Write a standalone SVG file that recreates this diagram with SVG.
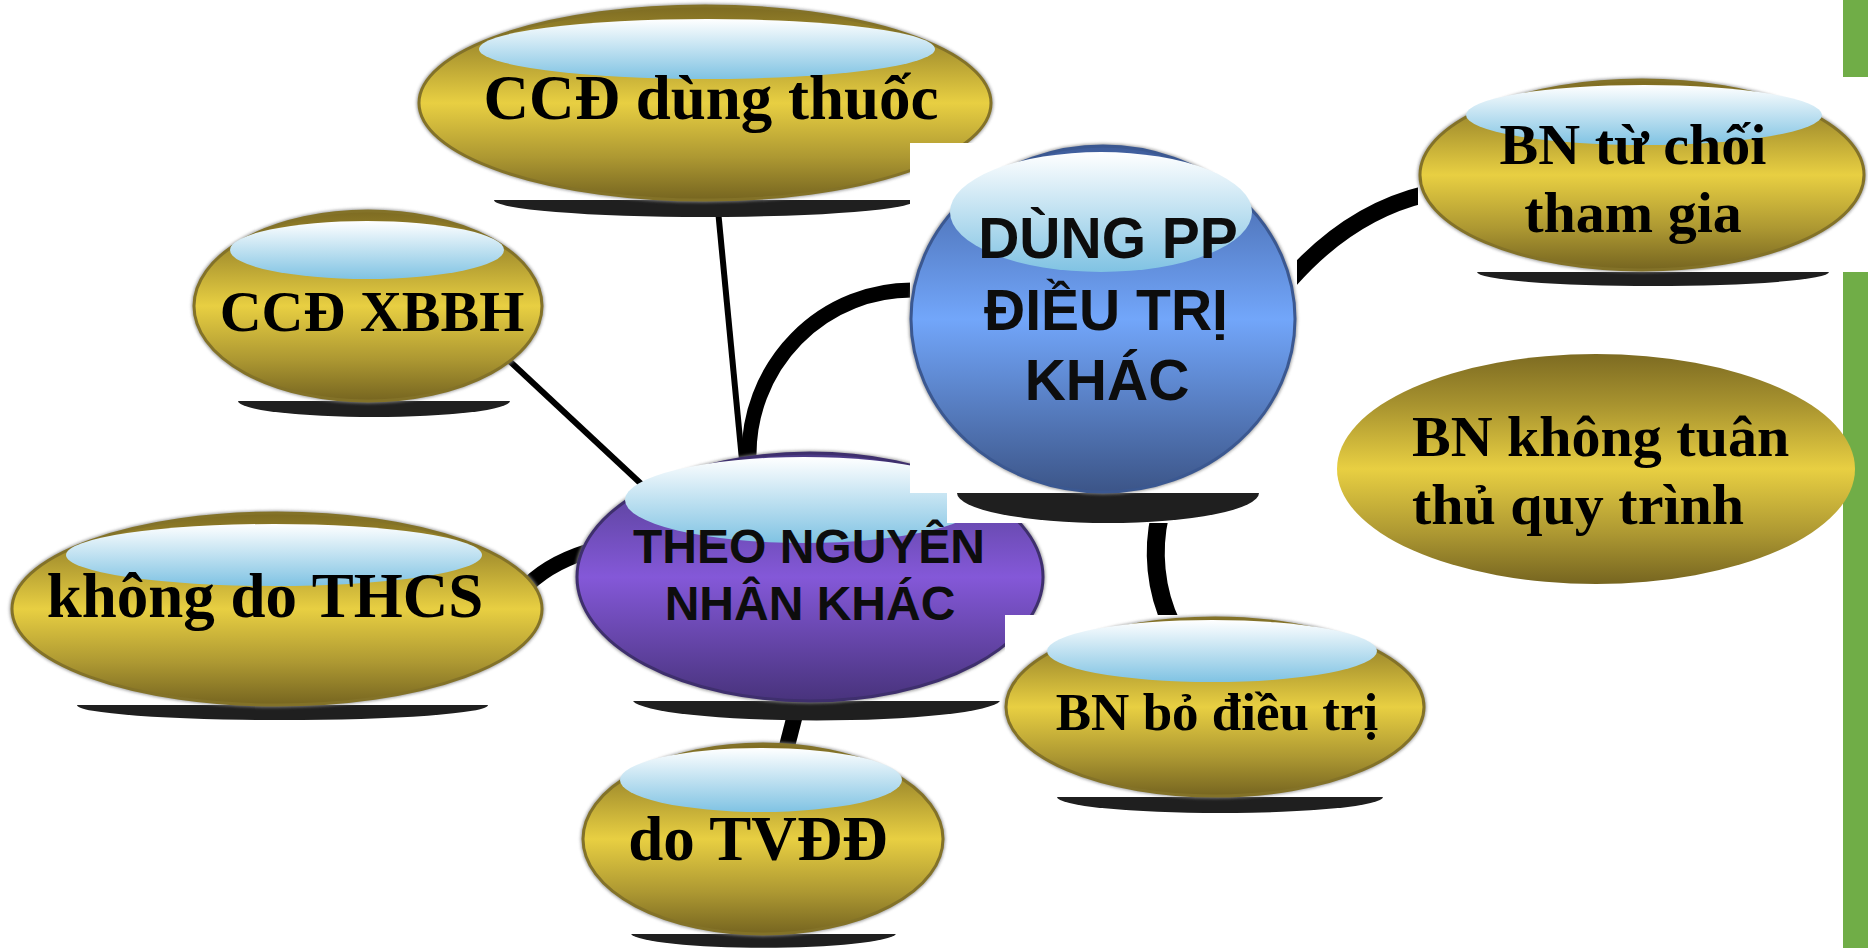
<svg xmlns="http://www.w3.org/2000/svg" width="1868" height="948" viewBox="0 0 1868 948">
<defs>
<linearGradient id="gGold" x1="0" y1="0" x2="0" y2="1">
<stop offset="0" stop-color="#7d6b22"/><stop offset="0.22" stop-color="#a8932f"/><stop offset="0.5" stop-color="#e8cf42"/><stop offset="0.78" stop-color="#ad9832"/><stop offset="1" stop-color="#766520"/>
</linearGradient>
<linearGradient id="gBlue" x1="0" y1="0" x2="0" y2="1">
<stop offset="0" stop-color="#3e5c9a"/><stop offset="0.5" stop-color="#72a6fa"/><stop offset="1" stop-color="#3c5588"/>
</linearGradient>
<linearGradient id="gPurple" x1="0" y1="0" x2="0" y2="1">
<stop offset="0" stop-color="#4b3b85"/><stop offset="0.5" stop-color="#8458d8"/><stop offset="1" stop-color="#48337c"/>
</linearGradient>
<linearGradient id="gHl" x1="0" y1="0" x2="0" y2="1">
<stop offset="0" stop-color="#ffffff"/><stop offset="1" stop-color="#80c3e3"/>
</linearGradient>
<filter id="bl" x="-10%" y="-10%" width="120%" height="120%"><feGaussianBlur stdDeviation="1.5"/></filter>
</defs>
<style>
.halo{fill:none;stroke:#8c8c8c;stroke-width:5;filter:url(#bl);opacity:.8}
.gold{fill:url(#gGold);stroke:#837228;stroke-width:3}
.gold2{fill:url(#gGold)}
.blue{fill:url(#gBlue);stroke:#3b5891;stroke-width:3}
.purple{fill:url(#gPurple);stroke:#3e2f6d;stroke-width:3}
.hl{fill:url(#gHl)}
.sh{fill:#1f1f1f}
.bg{fill:#ffffff}
.tg{font-family:"Liberation Serif","Times New Roman",serif;font-weight:bold;fill:#000;text-anchor:middle}
.ts{font-family:"Liberation Sans",Arial,sans-serif;font-weight:bold;fill:#0d0d0d;text-anchor:middle}
.cn{fill:none;stroke:#000}
</style>
<rect width="1868" height="948" fill="#ffffff"/>
<g id="green-bars" fill="#70ad47">
<rect x="1843" y="0" width="25" height="77"/>
<rect x="1843" y="272" width="25" height="676"/>
</g>
<g id="connectors">
<line class="cn" x1="718" y1="210" x2="742" y2="460" stroke-width="6"/>
<path class="cn" d="M 749 458 A 163 165 0 0 1 914 290" stroke-width="15"/>
<line class="cn" x1="503" y1="355" x2="652" y2="494" stroke-width="6"/>
<path class="cn" d="M 522 591 Q 545 565 586 552" stroke-width="15"/>
<line class="cn" x1="795" y1="715" x2="786" y2="750" stroke-width="16"/>
<path class="cn" d="M 1290 280 Q 1350 212 1426 194" stroke-width="17"/>
<path class="cn" d="M 1160 515 C 1152 550, 1155 590, 1172 625" stroke-width="18"/>
</g>
<g id="node-ccd-dung-thuoc">
<path class="sh" d="M 494 200 A 211 17 0 0 0 916 200 Z"/>
<ellipse class="halo" cx="705" cy="103" rx="286" ry="97"/>
<ellipse class="gold" cx="705" cy="103" rx="286" ry="97"/>
<ellipse class="hl" cx="707" cy="49" rx="228" ry="30"/>
<text class="tg" x="711" y="119" font-size="63">CCĐ dùng thuốc</text>
</g>
<g id="node-ccd-xbbh">
<path class="sh" d="M 238 401 A 136 16 0 0 0 510 401 Z"/>
<ellipse class="halo" cx="368" cy="306" rx="174" ry="95"/>
<ellipse class="gold" cx="368" cy="306" rx="174" ry="95"/>
<ellipse class="hl" cx="367" cy="250" rx="137" ry="29"/>
<text class="tg" x="372" y="331" font-size="58">CCĐ XBBH</text>
</g>
<g id="node-khong-do-thcs">
<path class="sh" d="M 77 705 A 205 15 0 0 0 488 705 Z"/>
<ellipse class="halo" cx="277" cy="609" rx="265" ry="96"/>
<ellipse class="gold" cx="277" cy="609" rx="265" ry="96"/>
<ellipse class="hl" cx="274" cy="555" rx="208" ry="31"/>
<text class="tg" x="265" y="617" font-size="63">không do THCS</text>
</g>
<g id="node-theo-nguyen-nhan-khac">
<path class="sh" d="M 633 701 A 184 21 0 0 0 1000 701 Z"/>
<ellipse class="halo" cx="810" cy="577" rx="233" ry="124"/>
<ellipse class="purple" cx="810" cy="577" rx="233" ry="124"/>
<ellipse class="hl" cx="804" cy="500" rx="179" ry="43"/>
<text class="ts" x="809" y="563" font-size="48">THEO NGUYÊN</text>
<text class="ts" x="810" y="620" font-size="48">NHÂN KHÁC</text>
</g>
<g id="node-do-tvdd">
<path class="sh" d="M 631 934 A 133 15 0 0 0 896 934 Z"/>
<ellipse class="halo" cx="763" cy="839" rx="180" ry="95"/>
<ellipse class="gold" cx="763" cy="839" rx="180" ry="95"/>
<ellipse class="hl" cx="761" cy="780" rx="141" ry="32"/>
<text class="tg" x="758" y="860" font-size="63">do TVĐĐ</text>
</g>
<g id="node-dung-pp-dieu-tri-khac">
<rect class="bg" x="910" y="143" width="387" height="350"/>
<rect class="bg" x="947" y="493" width="330" height="30"/>
<path class="sh" d="M 957 493 A 151 30 0 0 0 1259 493 Z"/>
<ellipse class="halo" cx="1103" cy="319" rx="192" ry="173"/>
<ellipse class="blue" cx="1103" cy="319" rx="192" ry="173"/>
<ellipse class="hl" cx="1101" cy="212" rx="151" ry="60"/>
<text class="ts" x="1108" y="258" font-size="57">DÙNG PP</text>
<text class="ts" x="1106" y="330" font-size="57">ĐIỀU TRỊ</text>
<text class="ts" x="1107" y="400" font-size="57">KHÁC</text>
</g>
<g id="node-bn-tu-choi">
<rect class="bg" x="1418" y="77" width="450" height="195"/>
<path class="sh" d="M 1477 272 A 176 14 0 0 0 1829 272 Z"/>
<ellipse class="halo" cx="1642" cy="175" rx="222" ry="95"/>
<ellipse class="gold" cx="1642" cy="175" rx="222" ry="95"/>
<ellipse class="hl" cx="1644" cy="115" rx="178" ry="30"/>
<text class="tg" x="1633" y="164" font-size="58">BN từ chối</text>
<text class="tg" x="1633" y="232" font-size="58">tham gia</text>
</g>
<g id="node-bn-khong-tuan-thu">
<ellipse class="gold2" cx="1596" cy="469" rx="259" ry="115"/>
<text class="tg" x="1412" y="456" font-size="58" text-anchor="start" style="text-anchor:start">BN không tuân</text>
<text class="tg" x="1412" y="524" font-size="58" style="text-anchor:start">thủ quy trình</text>
</g>
<g id="node-bn-bo-dieu-tri">
<rect class="bg" x="1005" y="615" width="420" height="182"/>
<path class="sh" d="M 1057 797 A 163 16 0 0 0 1383 797 Z"/>
<ellipse class="halo" cx="1215" cy="707" rx="209" ry="89"/>
<ellipse class="gold" cx="1215" cy="707" rx="209" ry="89"/>
<ellipse class="hl" cx="1212" cy="651" rx="165" ry="31"/>
<text class="tg" x="1217" y="730" font-size="53">BN bỏ điều trị</text>
</g>
</svg>
